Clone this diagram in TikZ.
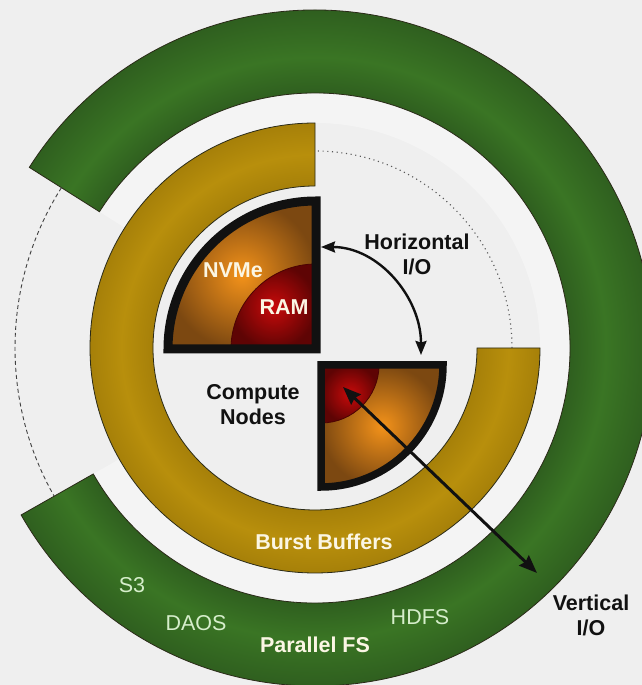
\documentclass[tikz,border=0pt]{standalone}
\usepackage{fontspec}
\setmainfont{Liberation Sans}
\usetikzlibrary{arrows.meta,calc}
\definecolor{bg}{HTML}{EFEFEF}
\definecolor{gapwhite}{HTML}{F4F4F4}
\definecolor{gdark}{HTML}{2F5F1F}
\definecolor{gmid}{HTML}{3A7524}
\definecolor{ydark}{HTML}{A68009}
\definecolor{ymid}{HTML}{B88F0C}
\definecolor{oinner}{HTML}{F3921A}
\definecolor{oouter}{HTML}{7C4811}
\definecolor{rinner}{HTML}{C80A0A}
\definecolor{router}{HTML}{5E0404}
\definecolor{cream}{HTML}{FBF6E4}
\definecolor{lgreen}{HTML}{D6EECB}
\definecolor{edgecol}{HTML}{2A2A18}
\definecolor{ink}{HTML}{111111}
\pgfdeclareradialshading{greenring}{\pgfpoint{0bp}{0bp}}{color(0bp)=(gdark); color(18.86bp)=(gdark); color(21.5bp)=(gmid); color(25bp)=(gdark); color(50bp)=(gdark)}
\pgfdeclareradialshading{goldring}{\pgfpoint{0bp}{0bp}}{color(0bp)=(ydark); color(18bp)=(ydark); color(21.5bp)=(ymid); color(25bp)=(ydark); color(50bp)=(ydark)}
\newcommand{\GreenRing}{($(C)+(-150.4:338)$) arc[start angle=-150.4,end angle=147.7,radius=338] -- ($(C)+(147.7:255)$) arc[start angle=147.7,end angle=-150.4,radius=255] -- cycle}
\newcommand{\GoldRing}{($(C)+(90:225)$) arc[start angle=90,end angle=360,radius=225] -- ($(C)+(0:162)$) arc[start angle=360,end angle=90,radius=162] -- cycle}
\tikzset{
  lbl/.style={font=\fontsize{21.5}{25}\selectfont\bfseries, align=center, inner sep=0pt},
  thinlbl/.style={font=\fontsize{21.5}{25}\selectfont, text=lgreen, inner sep=0pt},
  ringedge/.style={draw=edgecol, line width=0.8pt},
  quadedge/.style={draw=ink, miter limit=10},
  ioarrow/.style={draw=ink, line width=#1},
}
\begin{document}
\begin{tikzpicture}[x=1pt,y=1pt]
\useasboundingbox (0,0) rectangle (642,685);
\fill[bg] (0,0) rectangle (642,685);
\clip (0,0) rectangle (642,685);
\coordinate (C) at (315,337);
% light gap between the rings
\fill[gapwhite] ($(C)+(-150.4:255)$) arc[start angle=-150.4,end angle=147.7,radius=255] -- ($(C)+(147.7:225)$) arc[start angle=147.7,end angle=-150.4,radius=225] -- cycle;
% green ring
\begin{scope}
  \clip \GreenRing;
  \shade[shading=greenring] (C) circle (338);
\end{scope}
\path[ringedge] \GreenRing;
% dashed arc on the left
\draw[draw=ink!80, line width=0.9pt, dash pattern=on 4pt off 3pt] ($(C)+(147.7:300)$) arc[start angle=147.7,end angle=209.6,radius=300];
% gold ring
\begin{scope}
  \clip \GoldRing;
  \shade[shading=goldring] (C) circle (225);
\end{scope}
\path[ringedge] \GoldRing;
% dotted arc top right
\draw[draw=ink!70, line width=1.1pt, dash pattern=on 1.1pt off 3.6pt] ($(C)+(0:197)$) arc[start angle=0,end angle=90,radius=197];
% compute node 1
\coordinate (Q1) at (316,336);
\shade[inner color=oinner, outer color=oouter] (Q1) -- ++(0,148) arc[start angle=90,end angle=180,radius=148] -- cycle;
\shade[inner color=rinner, outer color=router] (Q1) -- ++(0,85) arc[start angle=90,end angle=180,radius=85] -- cycle;
\draw[draw=router!80!black, line width=0.8pt] ($(Q1)+(0,85)$) arc[start angle=90,end angle=180,radius=85];
\path[quadedge, line width=9pt] (Q1) -- ++(0,148) arc[start angle=90,end angle=180,radius=148] -- cycle;
% compute node 2
\coordinate (Q2) at (321,320);
\shade[inner color=oinner, outer color=oouter] (Q2) -- ++(122,0) arc[start angle=0,end angle=-90,radius=122] -- cycle;
\shade[inner color=rinner, outer color=router] (Q2) -- ++(58,0) arc[start angle=0,end angle=-90,radius=58] -- cycle;
\draw[draw=router!80!black, line width=0.8pt] ($(Q2)+(58,0)$) arc[start angle=0,end angle=-90,radius=58];
\path[quadedge, line width=7.5pt] (Q2) -- ++(122,0) arc[start angle=0,end angle=-90,radius=122] -- cycle;
% horizontal I/O arrow
\coordinate (h1) at (321,438);
\coordinate (h2) at (421,330);
\draw[ioarrow=2.4pt, {Stealth[length=14pt,width=11pt,inset=1.5pt]}-{Stealth[length=14pt,width=11pt,inset=1.5pt]}] (h1) to[out=0,in=90] (h2);
% vertical I/O arrow
\coordinate (v1) at (343,298);
\coordinate (v2) at (537,112);
\draw[ioarrow=3pt, {Stealth[length=18pt,width=14pt,inset=2pt]}-{Stealth[length=18pt,width=14pt,inset=2pt]}] (v1) -- (v2);
% labels
\node[lbl, text=cream] (nvme) at (233,415) {NVMe};
\node[lbl, text=cream] (ram) at (284,378) {RAM};
\node[lbl, text=ink] (compute) at (253,280.5) {Compute\\Nodes};
\node[lbl, text=ink] (hio) at (417,430.5) {Horizontal\\I/O};
\node[lbl, text=cream] (bb) at (324,143) {Burst Buffers};
\node[lbl, text=cream] (pfs) at (315,40) {Parallel FS};
\node[thinlbl] (s3) at (132,100) {S3};
\node[thinlbl] (daos) at (196,62) {DAOS};
\node[thinlbl] (hdfs) at (420,68) {HDFS};
\node[lbl, text=ink] (vio) at (591,69.5) {Vertical\\I/O};
\end{tikzpicture}
\end{document}
